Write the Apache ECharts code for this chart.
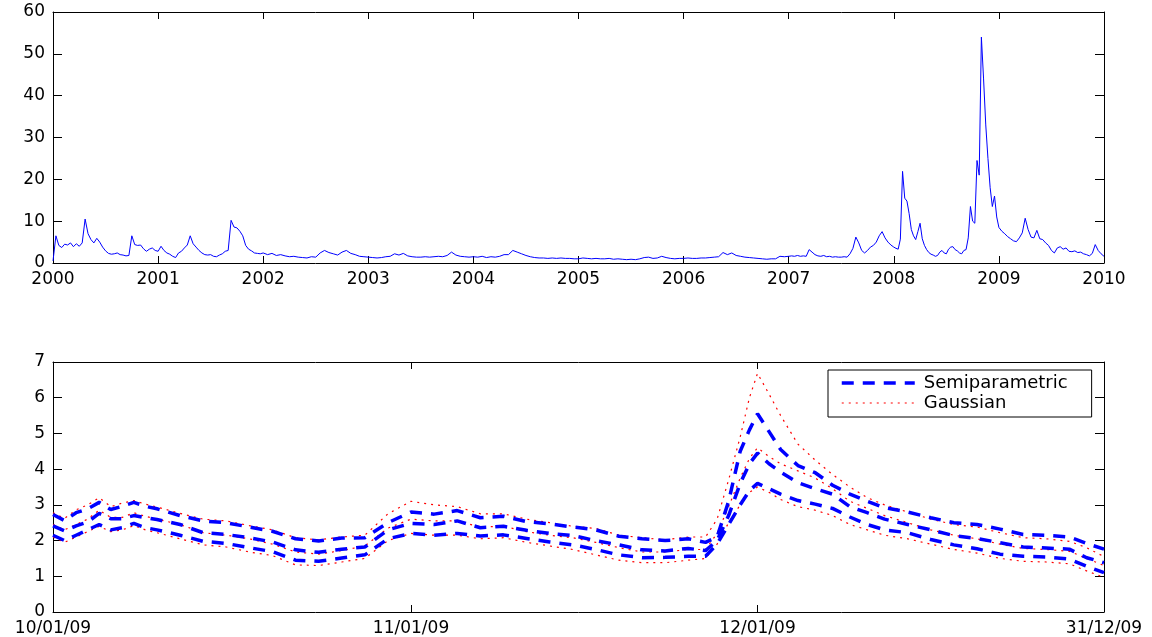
<!DOCTYPE html>
<html>
<head>
<meta charset="utf-8">
<title>Volatility 2000-2010 and Q4 2009 bands</title>
<script src="https://cdn.jsdelivr.net/npm/echarts@6.0.0/dist/echarts.min.js"></script>
<style>
  html, body { margin: 0; padding: 0; background: #fff; }
  #chart { width: 1152px; height: 637px; }
</style>
</head>
<body>
<div id="chart"></div>
<script>
// top panel, one array per year (points spread evenly over the year)
var vol2000 = [0.5, 6.5, 4.2, 3.7, 4.5, 4.3, 4.8, 3.9, 4.6, 4.0, 4.8, 10.5, 7.0, 5.6, 4.8, 5.9, 5.0, 3.8,
               2.9, 2.3, 2.1, 2.2, 2.4, 2.0, 1.9, 1.7, 1.8, 6.5, 4.4, 4.2, 4.3, 3.4, 2.8, 3.3, 3.6, 3.0];
var vol2001 = [2.8, 4.0, 3.0, 2.4, 2.1, 1.6, 1.3, 2.4, 2.8, 3.6, 4.3, 6.5, 4.6, 3.8, 3.0, 2.4, 2.0, 1.9,
               2.0, 1.6, 1.5, 1.9, 2.2, 2.8, 3.0, 10.2, 8.6, 8.4, 7.6, 6.5, 4.2, 3.3, 2.9, 2.4, 2.3, 2.2];
var vol2002 = [2.4, 2.0, 2.3, 1.8, 2.0, 1.7, 1.5, 1.6, 1.4, 1.3, 1.2, 1.5,
               1.4, 2.4, 3.0, 2.5, 2.2, 1.9, 2.6, 3.0, 2.3, 2.0, 1.6, 1.5];
var vol2003 = [1.4, 1.3, 1.2, 1.3, 1.5, 1.6, 2.2, 1.9, 2.3, 1.7, 1.5, 1.4,
               1.4, 1.5, 1.4, 1.5, 1.6, 1.5, 1.8, 2.6, 1.9, 1.6, 1.5, 1.4];
var vol2004 = [1.5, 1.4, 1.6, 1.3, 1.5, 1.4, 1.6, 2.0, 2.0, 3.0, 2.6, 2.2,
               1.8, 1.5, 1.3, 1.2, 1.2, 1.1, 1.2, 1.1, 1.2, 1.1, 1.1, 1.0];
var vol2005 = [1.0, 1.2, 1.1, 1.0, 1.1, 1.0, 1.0, 1.1, 0.9, 1.0, 0.9, 0.8,
               0.9, 0.8, 1.0, 1.3, 1.4, 1.1, 1.2, 1.6, 1.3, 1.1, 1.0, 1.1];
var vol2006 = [1.1, 1.2, 1.1, 1.1, 1.2, 1.2, 1.3, 1.4, 1.5, 2.5, 2.0, 2.4,
               1.8, 1.6, 1.4, 1.3, 1.2, 1.1, 1.0, 0.9, 1.0, 1.0, 1.6, 1.5];
var vol2007 = [1.6, 1.7, 1.6, 1.8, 1.6, 1.7, 1.6, 3.2, 2.6, 2.0, 1.7, 1.6, 1.8, 1.5, 1.6, 1.4, 1.5, 1.4,
               1.4, 1.5, 1.4, 2.2, 3.5, 6.2, 4.8, 3.0, 2.4, 3.0, 3.8, 4.2, 5.0, 6.5, 7.5, 6.0, 5.0, 4.3];
var vol2008 = [3.8, 3.5, 3.3, 5.7, 21.9, 15.5, 14.8, 11.8, 8.0, 6.5, 5.6, 7.5, 9.5, 5.8, 4.2, 3.2,
               2.5, 2.1, 1.9, 1.6, 1.8, 2.6, 3.0, 2.4, 2.2, 3.3, 3.8, 3.9, 3.2, 2.9, 2.4, 2.2,
               3.0, 3.2, 6.0, 13.5, 10.0, 9.5, 24.5, 21.0, 54.0, 44.0, 33.0, 25.0, 18.0, 13.5, 16.0, 11.0];
var vol2009 = [8.5, 7.6, 7.0, 6.3, 5.8, 5.3, 5.1, 6.0, 7.2, 10.7, 8.0, 6.2, 6.0, 7.8, 5.8, 5.6, 4.8, 4.2,
               3.0, 2.4, 3.6, 3.9, 3.3, 3.6, 2.8, 2.7, 2.9, 2.5, 2.6, 2.2, 2.0, 1.7, 2.3, 4.4, 3.0, 2.2];
var vol2010 = [1.6];
var topYears = [2000, 2001, 2002, 2003, 2004, 2005, 2006, 2007, 2008, 2009, 2010];
var topValues = [vol2000, vol2001, vol2002, vol2003, vol2004, vol2005, vol2006, vol2007, vol2008, vol2009, vol2010];

// bottom panel, days counted from 1 Oct 2009
var days = [0, 1, 2, 3, 4, 5, 6, 7, 8, 9, 11, 13, 15, 17, 19, 21, 23, 25, 27, 29, 31, 33, 35, 37, 39,
            41, 43, 45, 47, 49, 51, 53, 55, 56.5, 57.5, 58.5, 59.5, 60.3, 61, 62, 63, 64.5, 66, 67.5,
            69, 70.5, 72, 74, 76, 78, 80, 82, 84, 86, 88, 89.5, 91];
var semiUpper = [2.73, 2.56, 2.78, 2.89, 3.07, 2.87, 2.96, 3.07, 2.96, 2.89,
                 2.70, 2.55, 2.50, 2.38, 2.26, 2.05, 1.99, 2.07, 2.08, 2.50,
                 2.80, 2.74, 2.84, 2.64, 2.68, 2.53, 2.47, 2.38, 2.30, 2.12,
                 2.05, 2.00, 2.05, 1.95, 2.10, 3.10, 4.50, 5.10, 5.55, 5.05,
                 4.55, 4.10, 3.90, 3.55, 3.30, 3.10, 2.92, 2.80, 2.64, 2.50,
                 2.45, 2.32, 2.17, 2.15, 2.10, 1.92, 1.76];
var semiMid = [2.41, 2.27, 2.41, 2.52, 2.76, 2.61, 2.61, 2.70, 2.64, 2.59,
               2.45, 2.22, 2.17, 2.08, 1.96, 1.74, 1.67, 1.76, 1.82, 2.30,
               2.48, 2.45, 2.55, 2.36, 2.40, 2.29, 2.20, 2.14, 2.00, 1.88,
               1.74, 1.71, 1.78, 1.72, 2.00, 2.70, 3.60, 4.15, 4.45, 4.15,
               3.92, 3.62, 3.45, 3.30, 2.95, 2.78, 2.60, 2.45, 2.30, 2.14,
               2.06, 1.94, 1.82, 1.79, 1.76, 1.52, 1.38];
var semiLower = [2.15, 2.00, 2.15, 2.30, 2.45, 2.30, 2.36, 2.48, 2.36, 2.30,
                 2.15, 1.98, 1.92, 1.80, 1.69, 1.45, 1.42, 1.51, 1.60, 2.05,
                 2.20, 2.15, 2.20, 2.13, 2.16, 2.06, 1.96, 1.88, 1.75, 1.60,
                 1.52, 1.53, 1.56, 1.56, 1.90, 2.45, 3.00, 3.40, 3.60, 3.45,
                 3.30, 3.12, 3.02, 2.90, 2.66, 2.45, 2.30, 2.22, 2.03, 1.88,
                 1.77, 1.62, 1.56, 1.54, 1.48, 1.28, 1.10];
var gaussUpper = [2.78, 2.62, 2.86, 3.00, 3.20, 2.95, 3.05, 3.12, 3.02, 2.94,
                  2.76, 2.60, 2.55, 2.42, 2.30, 2.08, 2.02, 2.10, 2.15, 2.75,
                  3.10, 3.00, 2.95, 2.75, 2.75, 2.60, 2.50, 2.40, 2.34, 2.15,
                  2.08, 2.02, 2.10, 2.10, 2.60, 3.70, 4.90, 6.00, 6.68, 6.10,
                  5.50, 4.70, 4.25, 3.85, 3.50, 3.20, 3.00, 2.80, 2.60, 2.45,
                  2.38, 2.22, 2.08, 2.05, 1.98, 1.80, 1.55];
var gaussMid = [2.45, 2.30, 2.45, 2.60, 2.85, 2.65, 2.65, 2.78, 2.68, 2.60,
                2.45, 2.22, 2.15, 2.05, 1.90, 1.68, 1.62, 1.72, 1.85, 2.35,
                2.60, 2.55, 2.55, 2.38, 2.40, 2.25, 2.15, 2.08, 1.95, 1.80,
                1.68, 1.68, 1.75, 1.75, 2.20, 2.95, 3.75, 4.30, 4.60, 4.35,
                4.15, 3.95, 3.75, 3.45, 3.10, 2.90, 2.70, 2.50, 2.30, 2.15,
                2.05, 1.90, 1.78, 1.75, 1.70, 1.50, 1.30];
var gaussLower = [2.10, 1.95, 2.10, 2.25, 2.40, 2.25, 2.30, 2.42, 2.30, 2.22,
                  2.05, 1.88, 1.82, 1.68, 1.58, 1.32, 1.30, 1.40, 1.50, 2.00,
                  2.20, 2.15, 2.15, 2.05, 2.08, 1.95, 1.85, 1.75, 1.60, 1.45,
                  1.38, 1.38, 1.45, 1.50, 1.90, 2.50, 3.00, 3.35, 3.50, 3.35,
                  3.15, 2.95, 2.85, 2.70, 2.45, 2.30, 2.15, 2.05, 1.90, 1.75,
                  1.65, 1.50, 1.42, 1.40, 1.35, 1.15, 0.97];
var bottomTickDays = [0, 31, 61, 91];
var bottomTickLabels = ['10/01/09', '11/01/09', '12/01/09', '31/12/09'];

var font = 'DejaVu Sans';
var blue = '#0000ff';
var red = '#ff0000';

var topData = [];
topYears.forEach(function (y, k) {
   var arr = topValues[k];
   arr.forEach(function (v, i) {
      topData.push([y + i / arr.length, v]);
   });
});

function pairs(arr) {
   return days.map(function (d, i) { return [d, arr[i]]; });
}

// axis helper: black frame, ticks pointing inward like the original
function axis(grid, pos, min, max, interval, showLabel, tickLen) {
   return {
      gridIndex: grid, type: 'value', position: pos, min: min, max: max, interval: interval,
      axisLine: { onZero: false, lineStyle: { color: '#000', width: 1 } },
      axisTick: { inside: true, length: tickLen, lineStyle: { color: '#000' } },
      axisLabel: {
         show: showLabel, color: '#000', fontSize: 17, fontFamily: font, margin: 8,
         formatter: function (v) { return String(v); }
      },
      splitLine: { show: false }
   };
}

var xTop = axis(0, 'bottom', 2000, 2010, 1, true, 7);
var xTop2 = axis(0, 'top', 2000, 2010, 1, false, 7);
var xBot = axis(1, 'bottom', 0, 91, null, true, 7);
var xBot2 = axis(1, 'top', 0, 91, null, false, 7);
[xBot, xBot2].forEach(function (a) {
   delete a.interval;
   a.axisTick.customValues = bottomTickDays;
   a.axisLabel.customValues = bottomTickDays;
   a.axisLabel.formatter = function (v) { return bottomTickLabels[bottomTickDays.indexOf(v)]; };
});

var dashBlue = { color: blue, width: 3.5, type: [12, 9] };
var dotRed = { color: red, width: 1.2, type: [2, 5] };
// hide the circle that line series put into the legend icon
var noSymbol = { color: 'rgba(0,0,0,0)', borderWidth: 0, opacity: 0 };

function band(name, arr, style) {
   return {
      name: name, type: 'line', xAxisIndex: 2, yAxisIndex: 2, data: pairs(arr),
      symbol: 'none', lineStyle: style, itemStyle: { color: style.color }, z: style === dashBlue ? 3 : 2
   };
}

var chart = echarts.init(document.getElementById('chart'));
chart.setOption({
   animation: false,
   backgroundColor: '#fff',
   grid: [
      { left: 53, top: 12, width: 1051, height: 251 },
      { left: 53, top: 362, width: 1051, height: 251 }
   ],
   xAxis: [xTop, xTop2, xBot, xBot2],
   yAxis: [
      axis(0, 'left', 0, 60, 10, true, 9),
      axis(0, 'right', 0, 60, 10, false, 9),
      axis(1, 'left', 0, 7, 1, true, 9),
      axis(1, 'right', 0, 7, 1, false, 9)
   ],
   legend: {
      data: [
         { name: 'Semiparametric', lineStyle: { color: blue, width: 3.5, type: [12, 9] }, itemStyle: noSymbol },
         { name: 'Gaussian', lineStyle: { color: red, width: 1.2, type: [2, 5] }, itemStyle: noSymbol }
      ],
      orient: 'vertical', left: 828, top: 370,
      padding: [4, 24, 5, 12], itemGap: 2, itemWidth: 73, itemHeight: 14,
      backgroundColor: '#fff', borderColor: '#000', borderWidth: 1,
      textStyle: { color: '#000', fontSize: 18, fontFamily: font, padding: [0, 0, 0, 4] }
   },
   series: [
      {
         name: 'vol', type: 'line', xAxisIndex: 0, yAxisIndex: 0, data: topData,
         symbol: 'none', lineStyle: { color: blue, width: 1 }
      },
      band('Gaussian', gaussUpper, dotRed),
      band('Gaussian', gaussMid, dotRed),
      band('Gaussian', gaussLower, dotRed),
      band('Semiparametric', semiUpper, dashBlue),
      band('Semiparametric', semiMid, dashBlue),
      band('Semiparametric', semiLower, dashBlue)
   ]
});
</script>
</body>
</html>
